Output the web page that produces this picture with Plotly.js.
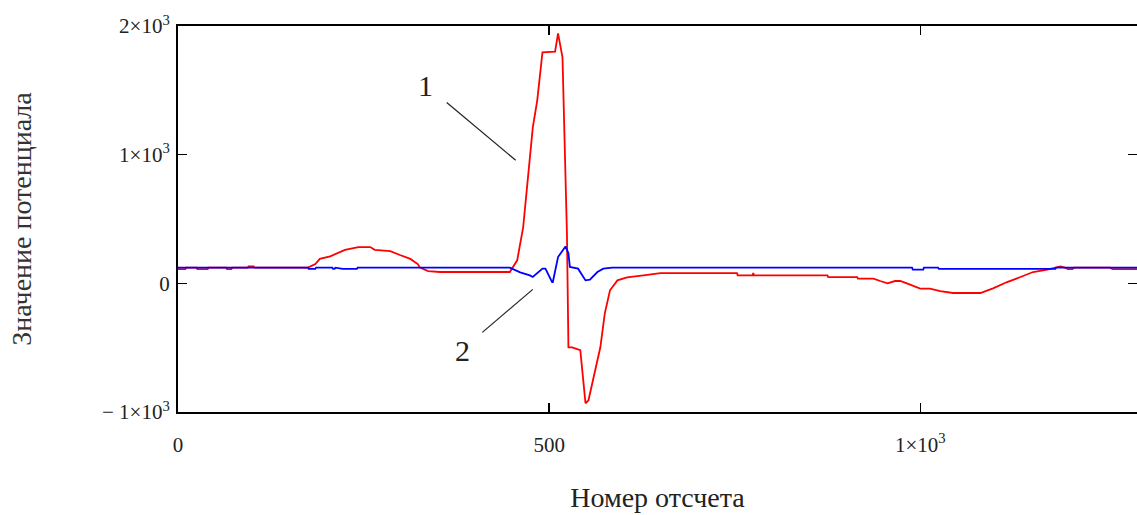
<!DOCTYPE html>
<html>
<head>
<meta charset="utf-8">
<script src="https://cdn.plot.ly/plotly-3.0.1.min.js"></script>
<style>html,body{margin:0;padding:0;background:#fff;}#chart{width:1137px;height:515px;}</style>
</head>
<body>
<div id="chart"></div>
<script>
// Series 1 (red)
const x1 = [0,10,11,25,26,40,41,65,66,72,73,94,95,102,103,175,185,191,205,214,225,243,259,265,286,299,313,323,326,337,353,447,457,465,472,478,484,491,508,512,518,519,522,524,526,531,542,549,553,559,569,575,582,592,605,627,650,753,754,774,775,776,875,876,915,916,937,946,956,966,973,982,991,1000,1013,1027,1044,1081,1098,1117,1135,1152,1171,1182,1189,1195,1199,1205,1207,1256,1259,1292];
const y1 = [110,110,122,122,110,110,122,122,110,110,122,122,132,132,122,122,150,190,210,230,260,282,282,260,250,220,190,150,122,95,88,88,179,435,855,1212,1422,1795,1800,1943,1756,1523,777,388,-497,-497,-520,-932,-909,-754,-497,-233,-54,23,47,62,80,80,62,62,80,62,62,49,49,36,36,18,0,18,18,0,-21,-41,-41,-60,-75,-75,-39,10,49,88,106,122,132,122,110,110,122,122,110,110];
// Series 2 (blue)
const x2 = [0,175,176,185,186,208,209,211,212,222,241,242,447,461,474,478,491,495,504,505,512,522,526,528,539,549,555,565,573,585,989,990,1004,1005,1024,1025,1182,1183,1292];
const y2 = [122,122,112,112,122,122,112,112,122,112,112,122,122,85,62,49,114,114,10,10,204,287,233,127,114,23,28,88,114,122,122,106,106,122,122,112,112,122,122];
const xTickVals = [0,500,1000];
const xTickText = ['0','500','1×10<sup>3</sup>'];
const yTickVals = [-1000,0,1000,2000];
const yTickText = ['− 1×10<sup>3</sup>','0','1×10<sup>3</sup>','2×10<sup>3</sup>'];
const labelTexts = ['1','2'];

const font = 'Liberation Serif, Times New Roman, serif';
const traces = [
  {x:x1,y:y1,mode:'lines',line:{color:'#ff0000',width:1.8},hoverinfo:'skip',showlegend:false},
  {x:x2,y:y2,mode:'lines',line:{color:'#0000ff',width:1.8},hoverinfo:'skip',showlegend:false}
];
const layout = {
  width:1137,height:515,
  margin:{l:178,r:0,t:26,b:103},
  paper_bgcolor:'#fff',plot_bgcolor:'#fff',
  font:{family:font,size:21,color:'#000'},
  showlegend:false,
  xaxis:{range:[0,1292],showgrid:false,zeroline:false,showline:true,linecolor:'#000',linewidth:2,mirror:'ticks',
    ticks:'inside',ticklen:9,tickwidth:1.5,tickcolor:'#000',tickvals:xTickVals,ticktext:xTickText,
    ticklabelstandoff:13,tickfont:{family:font,size:21,color:'#222'},
    title:{text:'Номер отсчета',font:{family:font,size:28,color:'#222'},standoff:31}},
  yaxis:{range:[-1000,2000],showgrid:false,zeroline:false,showline:true,linecolor:'#000',linewidth:2,mirror:'ticks',
    ticks:'inside',ticklen:9,tickwidth:1.5,tickcolor:'#000',tickvals:yTickVals,ticktext:yTickText,
    ticklabelstandoff:2,tickfont:{family:font,size:21,color:'#222'},
    title:{text:'Значение потенциала',font:{family:font,size:28,color:'#333'},standoff:62}},
  shapes:[
    {type:'line',xref:'x',yref:'y',x0:362,y0:1406,x1:455,y1:956,line:{color:'#222',width:1.2}},
    {type:'line',xref:'x',yref:'y',x0:410,y0:-381,x1:478,y1:-47,line:{color:'#222',width:1.2}}
  ],
  annotations:[
    {x:333,y:1538,xref:'x',yref:'y',text:labelTexts[0],showarrow:false,font:{family:font,size:30,color:'#222'}},
    {x:383,y:-521,xref:'x',yref:'y',text:labelTexts[1],showarrow:false,font:{family:font,size:30,color:'#222'}}
  ]
};
Plotly.newPlot('chart',traces,layout,{staticPlot:true,displayModeBar:false});
</script>
</body>
</html>
